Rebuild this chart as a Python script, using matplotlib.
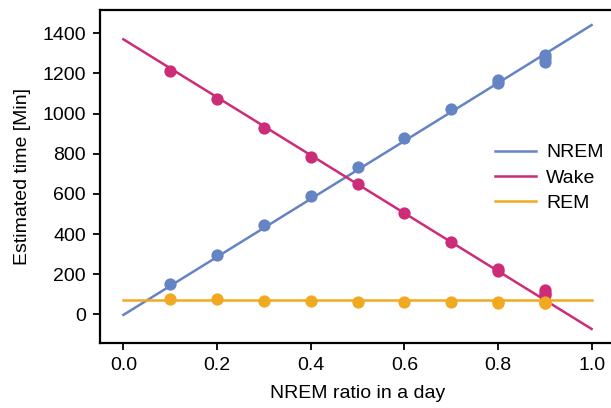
import matplotlib
matplotlib.use("Agg")
import matplotlib.pyplot as plt
import numpy as np

plt.rcParams['font.family'] = ['Liberation Sans', 'DejaVu Sans']

# Fitted lines (endpoints at x=0 and x=1)
line_x = [0.0, 1.0]
nrem_line = [-3, 1441]
wake_line = [1370, -73]
rem_line = [71, 71]

# Observed points
pt_x = [0.1, 0.2, 0.3, 0.4, 0.5, 0.6, 0.7, 0.8, 0.8, 0.9, 0.9, 0.9]
nrem_pts = [149, 294, 445, 589, 735, 877, 1023, 1152, 1168, 1258, 1275, 1292]
wake_pts = [1212, 1071, 927, 785, 648, 503, 360, 216, 228, 98, 108, 120]
rem_pts = [78, 75, 68, 66, 63, 63, 60, 58, 60, 55, 58, 60]

series_names = ["NREM", "Wake", "REM"]
colors = ["#6584C4", "#CC2C78", "#F2A922"]

FS = 14
fig = plt.figure(figsize=(6.11, 4.08), dpi=100)
W, H = 611, 408
ax = fig.add_axes([100 / W, 1 - 343 / H, (615 - 100) / W, (343 - 10) / H])

for name, lv, pv, c in zip(series_names, [nrem_line, wake_line, rem_line],
                           [nrem_pts, wake_pts, rem_pts], colors):
    ax.plot(line_x, lv, color=c, lw=1.8, label=name, zorder=2)
    ax.scatter(pt_x, pv, s=78, color=c, zorder=3, linewidths=0)

ax.set_xlim(-0.05, 1.05)
ax.set_ylim(-143, 1516)
ax.set_xticks([0.0, 0.2, 0.4, 0.6, 0.8, 1.0])
ax.set_yticks([0, 200, 400, 600, 800, 1000, 1200, 1400])
ax.set_xlabel("NREM ratio in a day", fontsize=FS, labelpad=8)
ax.set_ylabel("Estimated time [Min]", fontsize=FS, labelpad=8)
ax.tick_params(labelsize=FS, width=1.3, length=5, pad=5)
for s in ax.spines.values():
    s.set_linewidth(1.6)
ax.spines['right'].set_visible(False)

leg = ax.legend(frameon=False, fontsize=FS, loc="center left",
                bbox_to_anchor=((477 - 100) / 515, 1 - (178 - 10) / 333),
                handlelength=2.15, labelspacing=0.4, handletextpad=0.5)

fig.savefig("out.png", dpi=100)
